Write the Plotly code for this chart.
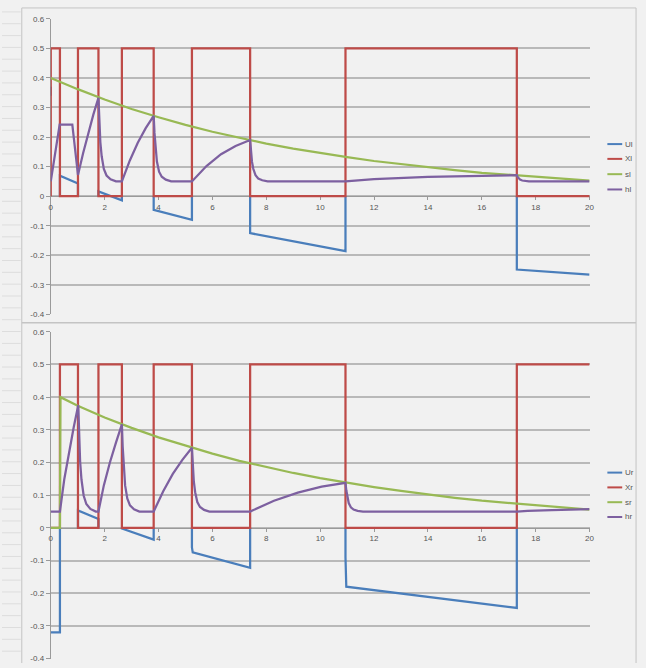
import plotly.graph_objects as go

# ---------------- data ----------------
# top chart
t_Ul = [0, 0, None, 0.34, 0.34, 1.01, 1.01, None, 1.77, 1.77, 2.64, 2.64, None,
        3.82, 3.82, 5.24, 5.24, None, 7.40, 7.40, 10.94, 10.94, None, 17.30, 17.30, 20]
v_Ul = [0.37, 0.34, None, 0, 0.069, 0.043, 0, None, 0, 0.016, -0.014, 0, None,
        0, -0.046, -0.080, 0, None, 0, -0.125, -0.186, 0, None, 0, -0.248, -0.265]

t_Xl = [0, 0, 0.34, 0.34, 1.01, 1.01, 1.77, 1.77, 2.64, 2.64, 3.82, 3.82, 5.24, 5.24,
        7.40, 7.40, 10.94, 10.94, 17.30, 17.30, 20]
v_Xl = [0, 0.5, 0.5, 0, 0, 0.5, 0.5, 0, 0, 0.5, 0.5, 0, 0, 0.5,
        0.5, 0, 0, 0.5, 0.5, 0, 0]

t_sl = [0, 1, 2, 3, 4, 5, 6, 7, 8, 9, 10, 11, 12, 13, 14, 15, 16, 17, 18, 19, 20]
v_sl = [0.400, 0.362, 0.327, 0.295, 0.267, 0.241, 0.218, 0.197, 0.178, 0.161, 0.146,
        0.132, 0.119, 0.108, 0.097, 0.088, 0.079, 0.072, 0.065, 0.059, 0.053]

t_hl = [0, 0.17, 0.33, 0.80, 0.90, 1.01, 1.20, 1.39, 1.58, 1.77,
        1.80, 1.84, 1.89, 1.97, 2.07, 2.22, 2.42, 2.64,
        2.935, 3.23, 3.525, 3.82,
        3.85, 3.89, 3.94, 4.02, 4.12, 4.27, 4.47, 5.24,
        5.78, 6.32, 6.86, 7.40,
        7.43, 7.47, 7.52, 7.60, 7.70, 7.85, 8.05, 10.94,
        12, 13, 14, 15, 16, 17.30,
        17.33, 17.37, 17.42, 17.50, 17.60, 17.75, 17.95, 20]
v_hl = [0.050, 0.150, 0.242, 0.242, 0.160, 0.072, 0.145, 0.213, 0.276, 0.333,
        0.259, 0.183, 0.135, 0.092, 0.070, 0.057, 0.050, 0.050,
        0.121, 0.181, 0.230, 0.272,
        0.214, 0.154, 0.117, 0.083, 0.066, 0.056, 0.050, 0.050,
        0.102, 0.142, 0.170, 0.190,
        0.154, 0.116, 0.092, 0.071, 0.060, 0.054, 0.050, 0.050,
        0.058, 0.062, 0.065, 0.067, 0.069, 0.071,
        0.065, 0.059, 0.056, 0.053, 0.051, 0.050, 0.050, 0.050]

# bottom chart
t_Ur = [0, 0.34, 0.34, None, 1.01, 1.01, 1.77, 1.77, None, 2.64, 2.64, 3.82, 3.82, None,
        5.24, 5.24, 5.27, 7.40, 7.40, None, 10.94, 10.94, 10.97, 17.30, 17.30]
v_Ur = [-0.320, -0.320, 0, None, 0, 0.053, 0.027, 0, None, 0, -0.002, -0.036, 0, None,
        0, -0.060, -0.075, -0.122, 0, None, 0, -0.090, -0.180, -0.245, 0]

t_Xr = [0, 0.34, 0.34, 1.01, 1.01, 1.77, 1.77, 2.64, 2.64, 3.82, 3.82, 5.24, 5.24,
        7.40, 7.40, 10.94, 10.94, 17.30, 17.30, 20]
v_Xr = [0, 0, 0.5, 0.5, 0, 0, 0.5, 0.5, 0, 0, 0.5, 0.5, 0,
        0, 0.5, 0.5, 0, 0, 0.5, 0.5]

t_sr = [0, 0.34, 0.36, 1, 2, 3, 4, 5, 6, 7, 8, 9, 10, 11, 12, 13, 14, 15, 16, 17, 18, 19, 20]
v_sr = [0, 0, 0.400, 0.374, 0.338, 0.306, 0.277, 0.251, 0.227, 0.205, 0.186, 0.168, 0.152,
        0.138, 0.125, 0.113, 0.102, 0.092, 0.083, 0.076, 0.068, 0.062, 0.056]

t_hr = [0, 0.34, 0.50, 0.675, 0.85, 1.02,
        1.05, 1.09, 1.14, 1.22, 1.32, 1.47, 1.67, 1.77,
        1.97, 2.195, 2.42, 2.64,
        2.67, 2.71, 2.76, 2.84, 2.94, 3.09, 3.29, 3.82,
        4.175, 4.53, 4.885, 5.24,
        5.27, 5.31, 5.36, 5.44, 5.54, 5.69, 5.89, 7.40,
        8.285, 9.17, 10.055, 10.94,
        10.97, 11.01, 11.06, 11.14, 11.24, 11.39, 11.59, 17.30,
        17.70, 18.60, 19.40, 20]
v_hr = [0.050, 0.050, 0.148, 0.232, 0.307, 0.375,
        0.291, 0.203, 0.148, 0.099, 0.073, 0.058, 0.050, 0.050,
        0.130, 0.200, 0.261, 0.317,
        0.248, 0.175, 0.130, 0.090, 0.069, 0.057, 0.050, 0.050,
        0.112, 0.165, 0.208, 0.245,
        0.194, 0.142, 0.109, 0.079, 0.064, 0.055, 0.050, 0.050,
        0.083, 0.108, 0.126, 0.138,
        0.115, 0.091, 0.076, 0.063, 0.056, 0.052, 0.050, 0.050,
        0.052, 0.054, 0.056, 0.057]

y_ticks = [-0.4, -0.3, -0.2, -0.1, 0, 0.1, 0.2, 0.3, 0.4, 0.5, 0.6]
y_tick_text = ["-0.4", "-0.3", "-0.2", "-0.1", "0", "0.1", "0.2", "0.3", "0.4", "0.5", "0.6"]
x_ticks = [0, 2, 4, 6, 8, 10, 12, 14, 16, 18, 20]
x_tick_text = ["0", "2", "4", "6", "8", "10", "12", "14", "16", "18", "20"]

top_names = ["Ul", "Xl", "sl", "hl"]
bottom_names = ["Ur", "Xr", "sr", "hr"]
colors = ["#4a7ebb", "#be4b48", "#98b954", "#7d60a0"]

# ---------------- figure ----------------
W, H = 646, 668
def px(x):
    return x / W
def py(y):
    return 1 - y / H

fig = go.Figure()
top_series = [(t_Ul, v_Ul), (t_Xl, v_Xl), (t_sl, v_sl), (t_hl, v_hl)]
bot_series = [(t_Ur, v_Ur), (t_Xr, v_Xr), (t_sr, v_sr), (t_hr, v_hr)]
for (t, v), name, c in zip(top_series, top_names, colors):
    fig.add_trace(go.Scatter(x=t, y=v, mode="lines", name=name, showlegend=False,
                             line=dict(color=c, width=2.25), connectgaps=False,
                             xaxis="x", yaxis="y"))
for (t, v), name, c in zip(bot_series, bottom_names, colors):
    fig.add_trace(go.Scatter(x=t, y=v, mode="lines", name=name, showlegend=False,
                             line=dict(color=c, width=2.25), connectgaps=False,
                             xaxis="x2", yaxis="y2"))

FONT = dict(family="Liberation Sans, Arial, sans-serif", size=8, color="#555555")
grid_c = "#b9b9b9"
axis_c = "#9a9a9a"
xdom = [px(49.3), px(594)]
top_dom = [py(314.7), py(15)]
bot_dom = [py(663.5), py(332.3)]

def yax(dom, anchor):
    return dict(domain=dom, range=[-0.4, 0.6], tickvals=y_ticks, ticktext=y_tick_text,
                showgrid=True, gridcolor=grid_c, gridwidth=1.5, zeroline=False,
                showline=True, linecolor=axis_c, linewidth=1, ticks="outside",
                ticklen=4, tickcolor=axis_c, tickfont=FONT, anchor=anchor,
                layer="below traces", fixedrange=True)

def xax(pos):
    return dict(domain=xdom, range=[0, 20], tickvals=x_ticks, ticktext=x_tick_text,
                showgrid=False, zeroline=False, showline=True, linecolor=axis_c,
                linewidth=1, ticks="outside", ticklen=3, tickcolor=axis_c,
                tickfont=FONT, anchor="free", position=pos, layer="below traces",
                fixedrange=True)

shapes = []
# spreadsheet row lines at the far left
for yy in range(8, 668, 12):
    shapes.append(dict(type="line", xref="paper", yref="paper", x0=0, x1=px(19),
                       y0=py(yy), y1=py(yy), line=dict(color="#dddddd", width=1)))
# chart borders
bc = "#c4c4c4"
shapes += [
    dict(type="line", xref="paper", yref="paper", x0=px(20), x1=px(20), y0=0, y1=py(4),
         line=dict(color=bc, width=1)),
    dict(type="line", xref="paper", yref="paper", x0=px(20), x1=px(641), y0=py(4), y1=py(4),
         line=dict(color=bc, width=1)),
    dict(type="line", xref="paper", yref="paper", x0=px(641), x1=px(641), y0=0, y1=py(4),
         line=dict(color=bc, width=1)),
    dict(type="line", xref="paper", yref="paper", x0=px(20), x1=px(641), y0=py(323), y1=py(323),
         line=dict(color=bc, width=1.5)),
]
annotations = []
# legends (manual, to match Excel spacing)
top_leg_y = [142, 157, 172.5, 188]
bot_leg_y = [475, 490, 505, 520]
for names, ys in ((top_names, top_leg_y), (bottom_names, bot_leg_y)):
    for name, c, yy in zip(names, colors, ys):
        shapes.append(dict(type="line", xref="paper", yref="paper", x0=px(612), x1=px(627),
                           y0=py(yy), y1=py(yy), line=dict(color=c, width=2)))
        annotations.append(dict(xref="paper", yref="paper", x=px(628), y=py(yy), text=name,
                                showarrow=False, xanchor="left", yanchor="middle",
                                font=FONT))

fig.update_layout(
    width=W, height=H, margin=dict(l=0, r=0, t=0, b=0),
    paper_bgcolor="#f1f1f1", plot_bgcolor="#f1f1f1",
    showlegend=False,
    xaxis=xax(py(194.7)), yaxis=yax(top_dom, "x"),
    xaxis2=xax(py(530.7)), yaxis2=yax(bot_dom, "x2"),
    shapes=shapes, annotations=annotations,
)

fig.write_html("out.html")
